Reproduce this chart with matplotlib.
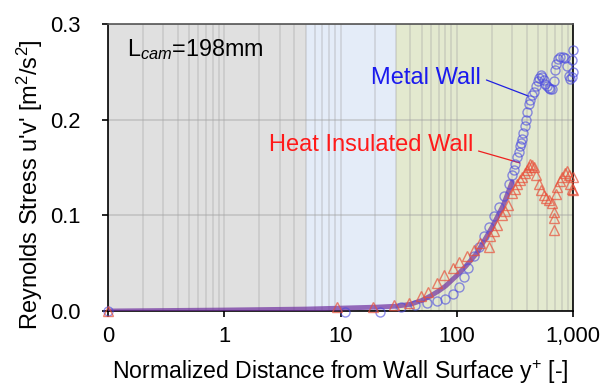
import matplotlib
matplotlib.use("Agg")
import matplotlib.pyplot as plt
from matplotlib.ticker import FixedLocator, NullFormatter, LogLocator

plt.rcParams['font.family'] = ['Liberation Sans', 'DejaVu Sans']
plt.rcParams['mathtext.fontset'] = 'custom'
plt.rcParams['mathtext.rm'] = 'Liberation Sans'
plt.rcParams['mathtext.it'] = 'Liberation Sans:italic'

# ---- data ----
metal_x = [0.1, 11, 22, 33, 44, 56, 68, 80, 92, 104, 115, 126, 140, 154, 170, 188,
           208, 230, 255, 280, 300, 310, 320, 330, 340, 350, 358, 366, 375, 385, 395,
           405, 417, 430, 445, 460, 480, 500, 515, 530, 545, 560, 580, 600, 620, 640,
           660, 680, 700, 715, 740, 780, 820, 860, 890, 920, 950, 980, 1000, 1000, 990]
metal_y = [0.0, -0.001, -0.001, 0.004, 0.006, 0.008, 0.010, 0.013, 0.018, 0.025, 0.036,
           0.045, 0.057, 0.067, 0.078, 0.088, 0.099, 0.109, 0.120, 0.133, 0.142, 0.147,
           0.154, 0.161, 0.166, 0.172, 0.176, 0.180, 0.186, 0.193, 0.200, 0.208, 0.216,
           0.221, 0.226, 0.229, 0.235, 0.240, 0.244, 0.247, 0.245, 0.241, 0.237, 0.235,
           0.233, 0.232, 0.232, 0.240, 0.252, 0.258, 0.263, 0.266, 0.266, 0.264, 0.256,
           0.246, 0.243, 0.245, 0.250, 0.273, 0.262]

ins_x = [0.1, 9.4, 19, 29, 38.6, 49, 57, 68, 78, 92, 104, 123, 140, 160, 188, 195, 210,
         223, 245, 260, 275, 300, 315, 330, 350, 366, 385, 405, 420, 430, 445, 460, 485,
         510, 535, 560, 590, 620, 660, 690, 690, 690, 710, 735, 770, 810, 850, 890, 920,
         950, 980, 1000, 1000]
ins_y = [0.0, 0.004, 0.004, 0.006, 0.008, 0.0157, 0.020, 0.029, 0.0376, 0.0446, 0.0515,
         0.057, 0.064, 0.0707, 0.067, 0.078, 0.084, 0.090, 0.100, 0.105, 0.111, 0.123,
         0.128, 0.133, 0.137, 0.140, 0.144, 0.147, 0.151, 0.154, 0.153, 0.151, 0.142,
         0.133, 0.126, 0.121, 0.118, 0.116, 0.113, 0.104, 0.097, 0.085, 0.122, 0.130,
         0.136, 0.140, 0.144, 0.146, 0.142, 0.133, 0.128, 0.126, 0.140]

mean_x = [0.1, 1, 5, 10, 20, 30, 40, 50, 60, 70, 80, 100, 120, 150, 200, 250, 300]
mean_y = [0.0, 0.001, 0.002, 0.003, 0.004, 0.005, 0.007, 0.011, 0.016, 0.021, 0.026,
          0.037, 0.047, 0.061, 0.087, 0.110, 0.135]

region_edges = [0.1, 5, 30, 1000]
region_colors = ['#e0e0e0', '#e4ecf8', '#e3e9cf']

xticks = [0.1, 1, 10, 100, 1000]
xtick_labels = ['0', '1', '10', '100', '1,000']
yticks = [0.0, 0.1, 0.2, 0.3]
ytick_labels = ['0.0', '0.1', '0.2', '0.3']

fig = plt.figure(figsize=(6, 3.87), dpi=100)
ax = fig.add_axes([0.18, 0.1964, 0.775, 0.7416])

for i, c in enumerate(region_colors):
    ax.axvspan(region_edges[i], region_edges[i + 1], color=c, zorder=0, lw=0)

ax.set_xscale('log')
ax.set_xlim(0.1, 1000)
ax.set_ylim(0, 0.3)

ax.xaxis.set_major_locator(FixedLocator(xticks))
ax.set_xticklabels(xtick_labels)
ax.xaxis.set_minor_locator(LogLocator(base=10, subs=range(2, 10)))
ax.xaxis.set_minor_formatter(NullFormatter())
ax.set_yticks(yticks)
ax.set_yticklabels(ytick_labels)

ax.grid(True, which='both', axis='x', color='#a0a0a0', alpha=0.35, lw=1.2, zorder=1)
ax.grid(True, which='major', axis='y', color='#a0a0a0', alpha=0.45, lw=1.2, zorder=1)
ax.set_axisbelow(True)

ax.tick_params(axis='both', which='major', direction='out', length=4, width=1.2,
               labelsize=15.8, color='black')
ax.tick_params(axis='x', which='minor', length=0)
ax.tick_params(axis='x', pad=7)
ax.tick_params(axis='y', pad=16)

for s in ax.spines.values():
    s.set_color('black')
    s.set_linewidth(1.2)
ax.spines['top'].set_color('#555555')

ax.plot(mean_x, mean_y, color='#7030a0', lw=3.5, alpha=0.7, zorder=3,
        solid_capstyle='round')
ax.plot(metal_x, metal_y, ls='none', marker='o', ms=6.5, mfc='none',
        mec='#4848e0', mew=1.0, alpha=0.6, zorder=4, clip_on=False)
ax.plot(ins_x, ins_y, ls='none', marker='^', ms=6.5, mfc='none',
        mec='#e8503a', mew=1.0, alpha=0.7, zorder=4, clip_on=False)

ax.annotate('', xy=(434, 0.2237), xytext=(171, 0.2425),
            arrowprops=dict(arrowstyle='-', color='#2020e0', lw=0.9))
ax.text(160, 0.2435, 'Metal Wall', color='#1a1aee', fontsize=17,
        ha='right', va='center')
ax.annotate('', xy=(368, 0.154), xytext=(146, 0.168),
            arrowprops=dict(arrowstyle='-', color='#ee2020', lw=0.9))
ax.text(138, 0.1735, 'Heat Insulated Wall', color='#ff1a1a', fontsize=17,
        ha='right', va='center')

ax.text(0.1457, 0.266, 'L$_{\\mathit{cam}}$=198mm', fontsize=16.8,
        ha='left', va='baseline')

ax.set_ylabel("Reynolds Stress u'v' [m$^{2}$/s$^{2}$]", fontsize=17, va='center')
ax.yaxis.set_label_coords(-0.168, 0.44)
ax.set_xlabel('Normalized Distance from Wall Surface y$^{+}$ [-]', fontsize=16.6,
              va='center')
ax.xaxis.set_label_coords(0.5, -0.2125)

fig.savefig('out.png', dpi=100)
